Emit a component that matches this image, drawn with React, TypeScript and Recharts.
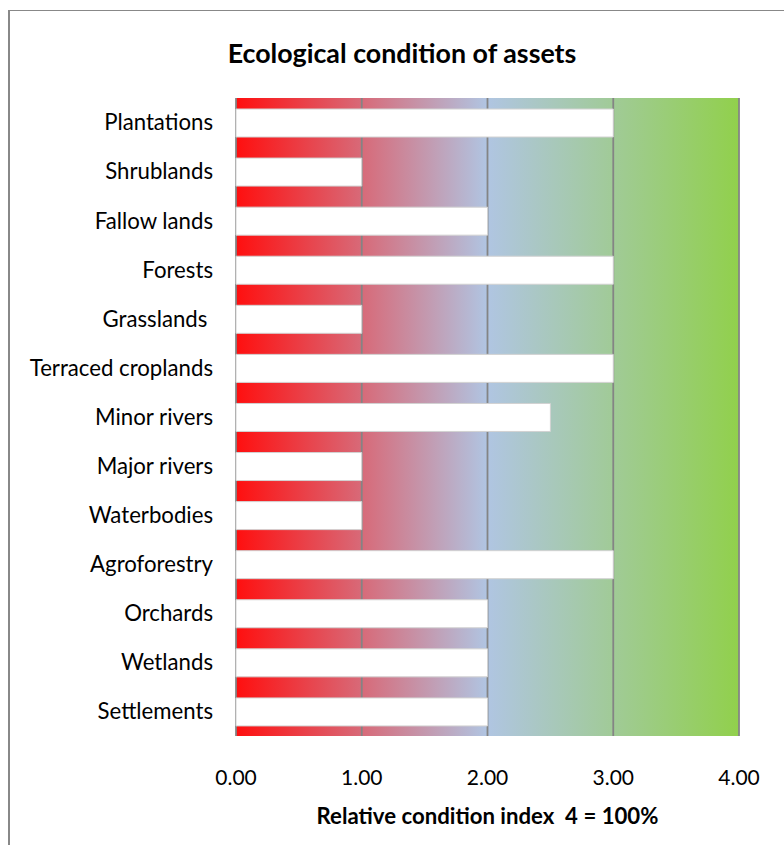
import { BarChart, Bar, XAxis, YAxis, CartesianGrid } from 'recharts'

const CATEGORIES = [
  'Plantations',
  'Shrublands',
  'Fallow lands',
  'Forests',
  'Grasslands\u00a0',
  'Terraced croplands',
  'Minor rivers',
  'Major rivers',
  'Waterbodies',
  'Agroforestry',
  'Orchards',
  'Wetlands',
  'Settlements',
]

const CONDITION = [3, 1, 2, 3, 1, 3, 2.5, 1, 1, 3, 2, 2, 2]

const X_TICKS = [0, 1, 2, 3, 4]

const TITLE = 'Ecological condition of assets'
const X_TITLE = 'Relative condition index  4 = 100%'

const FONT = 'Lato, "Noto Sans", sans-serif'

const chartData = CATEGORIES.map((name, i) => ({ name, value: CONDITION[i] }))

export default function App() {
  return (
    <div
      style={{
        position: 'absolute',
        left: 0,
        top: 0,
        width: 784,
        height: 845,
        overflow: 'hidden',
        background: '#fff',
        fontFamily: FONT,
      }}
    >
      <div
        style={{
          position: 'absolute',
          left: 8,
          top: 10,
          width: 820,
          height: 900,
          borderTop: '1px solid #888',
          borderLeft: '2px solid #888',
        }}
      />
      <div style={{ position: 'absolute', left: 0, top: 0 }}>
        <BarChart
          width={784}
          height={845}
          data={chartData}
          layout="vertical"
          margin={{ top: 98, right: 45, bottom: 49, left: 0 }}
        >
          <defs>
            <linearGradient id="bgGrad" x1="0" y1="0" x2="1" y2="0">
              <stop offset="0%" stopColor="#ff0f0f" />
              <stop offset="50%" stopColor="#b0c5e2" />
              <stop offset="100%" stopColor="#91d04c" />
            </linearGradient>
          </defs>
          <CartesianGrid
            horizontal={false}
            fill="url(#bgGrad)"
            fillOpacity={1}
            stroke="#848484"
            strokeWidth={1.8}
          />
          <XAxis
            type="number"
            domain={[0, 4]}
            ticks={X_TICKS}
            tickFormatter={(v: number) => v.toFixed(2)}
            axisLine={false}
            tickLine={false}
            tickSize={0}
            tickMargin={34}
            height={60}
            tick={{ fontSize: 21, fill: '#000', fontFamily: FONT }}
          />
          <YAxis
            type="category"
            dataKey="name"
            width={236}
            axisLine={false}
            tickLine={false}
            tickSize={0}
            tickMargin={23}
            interval={0}
            tick={{ fontSize: 22.2, fill: '#000', fontFamily: FONT }}
          />
          <Bar
            dataKey="value"
            fill="#ffffff"
            stroke="#d2d2d2"
            strokeWidth={1}
            barSize={28}
            isAnimationActive={false}
          />
        </BarChart>
      </div>
      <svg
        width={784}
        height={845}
        style={{ position: 'absolute', left: 0, top: 0, pointerEvents: 'none' }}
      >
        <text
          x={402}
          y={63}
          textAnchor="middle"
          fontFamily={FONT}
          fontWeight="bold"
          fontSize={26.8}
          fill="#000"
        >
          {TITLE}
        </text>
        <text
          x={487.5}
          y={824}
          textAnchor="middle"
          fontFamily={FONT}
          fontWeight="bold"
          fontSize={22.2}
          fill="#000"
          style={{ whiteSpace: 'pre' }}
        >
          {X_TITLE}
        </text>
      </svg>
    </div>
  )
}
